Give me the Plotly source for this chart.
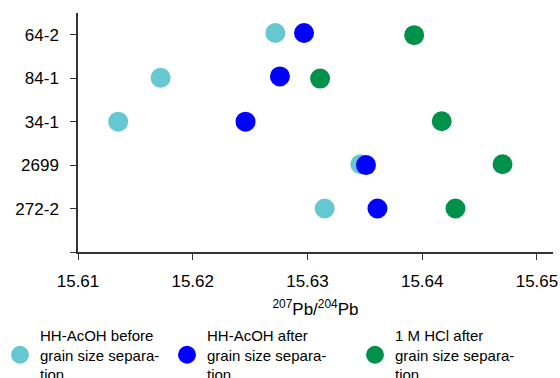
import plotly.graph_objects as go

samples = ["64-2", "84-1", "34-1", "2699", "272-2"]
sample_pos = [5, 4, 3, 2, 1]

series_names = [
    "HH-AcOH before<br>grain size separa-<br>tion",
    "HH-AcOH after<br>grain size separa-<br>tion",
    "1 M HCl after<br>grain size separa-<br>tion",
]
colors = ["#66C8D0", "#0000FF", "#00914A"]

x_before = [15.6272, 15.6172, 15.6135, 15.6346, 15.6315]
y_before = [5.04, 4.01, 3.0, 2.02, 1.0]
x_after = [15.6297, 15.6276, 15.6246, 15.6351, 15.6361]
y_after = [5.04, 4.04, 3.0, 2.0, 1.0]
x_hcl = [15.6393, 15.6311, 15.6417, 15.6470, 15.6429]
y_hcl = [4.99, 3.99, 3.01, 2.02, 1.0]

xs = [x_before, x_after, x_hcl]
ys = [y_before, y_after, y_hcl]
legends = ["legend", "legend2", "legend3"]

FONT = "Arial, Liberation Sans, sans-serif"

fig = go.Figure()
for name, c, x, y, lg in zip(series_names, colors, xs, ys, legends):
    fig.add_trace(go.Scatter(
        x=x, y=y, mode="markers", name=name, legend=lg, showlegend=True,
        marker=dict(size=18, color=c, line=dict(width=2, color=c)),
        cliponaxis=False,
    ))

leg_common = dict(orientation="h", xref="container", yref="container",
                  xanchor="left", yanchor="top", y=1 - 319 / 378,
                  bgcolor="rgba(0,0,0,0)", visible=True,
                  font=dict(family=FONT, size=15, color="#000"))
fig.update_layout(
    width=560, height=378, showlegend=True,
    margin=dict(l=78, r=7, t=13, b=125.5, autoexpand=False),
    paper_bgcolor="white", plot_bgcolor="white",
    font=dict(family=FONT, size=17, color="#000"),
    legend=dict(x=0.0, **leg_common),
    legend2=dict(x=167 / 560, **leg_common),
    legend3=dict(x=355 / 560, **leg_common),
    xaxis=dict(
        range=[15.61, 15.6514], tickvals=[15.61, 15.62, 15.63, 15.64, 15.65],
        ticktext=["15.61", "15.62", "15.63", "15.64", "15.65"],
        showgrid=False, zeroline=False, showline=True, linecolor="#333",
        linewidth=1.5, ticks="outside", ticklen=6, tickcolor="#333",
        ticklabelstandoff=7, automargin=False,
        title=dict(text="<sup>207</sup>Pb/<sup>204</sup>Pb", standoff=13,
                   font=dict(family=FONT, size=17)),
    ),
    yaxis=dict(
        range=[0, 5.5], tickvals=sample_pos + [0], ticktext=samples + [""],
        showgrid=False, zeroline=False, showline=True, linecolor="#333",
        linewidth=1.5, ticks="outside", ticklen=6, tickcolor="#333",
        ticklabelstandoff=8, automargin=False,
    ),
)
fig.write_html("out.html")
